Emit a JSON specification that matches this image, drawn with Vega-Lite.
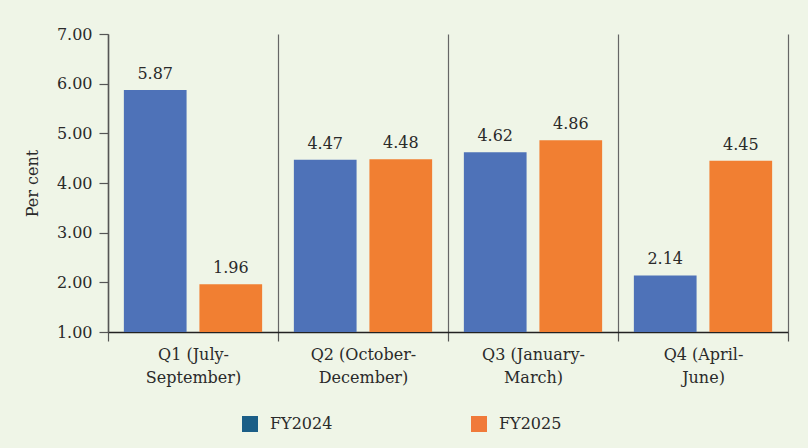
{
  "$schema": "https://vega.github.io/schema/vega-lite/v6.json",
  "autosize": {"type": "none"},
  "padding": {"left": 108, "top": 34, "right": 20, "bottom": 116},
  "width": 680,
  "height": 298,
  "background": "#eff5e7",
  "config": {
    "view": {"stroke": null},
    "font": "DejaVu Serif",
    "axis": {"labelFont": "DejaVu Serif", "titleFont": "DejaVu Serif", "labelColor": "#2a2a2a", "titleColor": "#2a2a2a"}
  },
  "datasets": {
    "growth": [
      {"quarter": "Q1 (July-September)", "fy": "FY2024", "value": 5.87},
      {"quarter": "Q1 (July-September)", "fy": "FY2025", "value": 1.96},
      {"quarter": "Q2 (October-December)", "fy": "FY2024", "value": 4.47},
      {"quarter": "Q2 (October-December)", "fy": "FY2025", "value": 4.48},
      {"quarter": "Q3 (January-March)", "fy": "FY2024", "value": 4.62},
      {"quarter": "Q3 (January-March)", "fy": "FY2025", "value": 4.86},
      {"quarter": "Q4 (April-June)", "fy": "FY2024", "value": 2.14},
      {"quarter": "Q4 (April-June)", "fy": "FY2025", "value": 4.45}
    ],
    "legendItems": [
      {"year": "FY2024"},
      {"year": "FY2025"}
    ]
  },
  "layer": [
    {
      "data": {"name": "growth"},
      "layer": [
        {
          "mark": {"type": "bar"},
          "encoding": {
            "y2": {"datum": 1},
            "color": {
              "condition": {"test": "datum.fy === 'FY2024'", "value": "#4e72b8"},
              "value": "#f17f32"
            }
          }
        },
        {
          "mark": {"type": "text", "dy": -11, "baseline": "alphabetic", "fontSize": 16, "color": "#2a2a2a", "font": "DejaVu Serif"},
          "encoding": {
            "text": {"field": "value", "type": "quantitative", "format": ".2f"}
          }
        }
      ],
      "encoding": {
        "x": {
          "field": "quarter",
          "type": "nominal",
          "sort": null,
          "scale": {"paddingInner": 0, "paddingOuter": 0},
          "axis": {
            "title": null,
            "labelAngle": 0,
            "labelFontSize": 16,
            "labelLineHeight": 23,
            "labelPadding": 5,
            "labelExpr": "[slice(datum.label, 0, indexof(datum.label, '-') + 1), slice(datum.label, indexof(datum.label, '-') + 1)]",
            "tickBand": "extent",
            "tickSize": 9,
            "tickColor": "#555",
            "tickWidth": 1.2,
            "grid": true,
            "gridColor": "#666",
            "gridWidth": 1.2,
            "domainColor": "#222",
            "domainWidth": 1.5
          }
        },
        "xOffset": {
          "field": "fy",
          "type": "nominal",
          "scale": {"paddingInner": 0.17, "paddingOuter": 0.21}
        },
        "y": {
          "field": "value",
          "type": "quantitative",
          "scale": {"domain": [1, 7], "zero": false, "nice": false},
          "axis": {
            "title": "Per cent",
            "titleFontSize": 16,
            "titleFontWeight": "normal",
            "titlePadding": 16,
            "values": [1, 2, 3, 4, 5, 6, 7],
            "format": ".2f",
            "labelFontSize": 16,
            "labelPadding": 7,
            "tickSize": 9,
            "tickColor": "#555",
            "tickWidth": 1.2,
            "domainColor": "#555",
            "domainWidth": 1.5,
            "grid": false
          }
        }
      }
    },
    {
      "data": {"name": "legendItems"},
      "mark": {"type": "square", "size": 0, "filled": true, "opacity": 1},
      "encoding": {
        "color": {
          "field": "year",
          "type": "nominal",
          "scale": {"domain": ["FY2024", "FY2025"], "range": ["#1b5e87", "#f07a3a"]},
          "legend": {
            "title": null,
            "orient": "none",
            "legendX": 134,
            "legendY": 382,
            "direction": "horizontal",
            "columns": 2,
            "columnPadding": 138,
            "symbolType": "square",
            "symbolSize": 256,
            "symbolStrokeWidth": 0,
            "symbolOpacity": 1,
            "labelFontSize": 16,
            "labelFont": "DejaVu Serif",
            "labelColor": "#2a2a2a",
            "labelOffset": 12
          }
        }
      }
    }
  ]
}
